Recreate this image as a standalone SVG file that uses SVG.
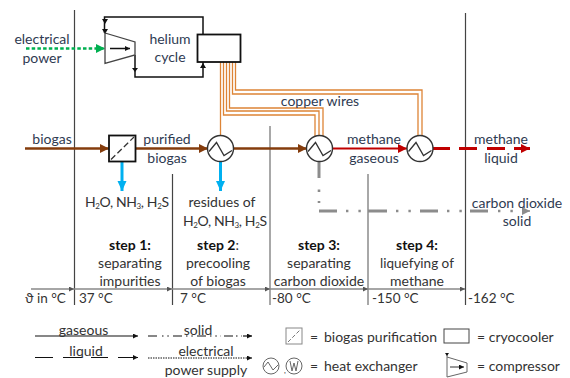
<svg xmlns="http://www.w3.org/2000/svg" width="570" height="378" viewBox="0 0 570 378">
<defs>
<style>
text{font-family:"Lato","Carlito","Open Sans",sans-serif;font-size:14px;fill:#2f3b52}
.m{text-anchor:middle}
.k{fill:#333}
.b{font-weight:700;fill:#111}
.s{font-size:8px}
.t{font-size:13.500px}
.w{fill:none;stroke:#dd8436;stroke-width:1.300}
.v{fill:none;stroke:#444;stroke-width:1.200}
.g{fill:none;stroke:#8c8c8c;stroke-width:1.500}
.hx{fill:#fff;stroke:#333;stroke-width:1.400}
.z{fill:none;stroke:#333;stroke-width:1.300}
.bk{fill:none;stroke:#111;stroke-width:1.500}
.lg{fill:none;stroke:#111;stroke-width:1.200}
</style>
<marker id="ab" markerUnits="userSpaceOnUse" markerWidth="10" markerHeight="10" refX="9" refY="4.500" orient="auto"><path d="M0 0L9 4.500L0 9z" fill="#843c0c"/></marker>
<marker id="ar" markerUnits="userSpaceOnUse" markerWidth="10" markerHeight="10" refX="9" refY="4.500" orient="auto"><path d="M0 0L9 4.500L0 9z" fill="#c00000"/></marker>
<marker id="ag" markerUnits="userSpaceOnUse" markerWidth="10" markerHeight="10" refX="9" refY="4.500" orient="auto"><path d="M0 0L9 4.500L0 9z" fill="#00b050"/></marker>
<marker id="au" markerUnits="userSpaceOnUse" markerWidth="11" markerHeight="11" refX="10" refY="4.500" orient="auto"><path d="M0 0L10 4.500L0 9z" fill="#00b0f0"/></marker>
<marker id="ay" markerUnits="userSpaceOnUse" markerWidth="10" markerHeight="10" refX="8" refY="4" orient="auto"><path d="M0 0L8 4L0 8z" fill="#8c8c8c"/></marker>
<marker id="ak" markerUnits="userSpaceOnUse" markerWidth="8" markerHeight="8" refX="5" refY="2.500" orient="auto"><path d="M0 0L5 2.500L0 5z" fill="#111"/></marker>
<marker id="ax" markerUnits="userSpaceOnUse" markerWidth="8" markerHeight="8" refX="5" refY="2.500" orient="auto"><path d="M0 0L5 2.500L0 5z" fill="#555"/></marker>
<path id="zig" d="M-11.500 3L-4 -6L3.500 7L11.500 2"/>
</defs>
<rect width="570" height="378" fill="#fff"/>

<g id="grid">
<path class="v" d="M74.500 10V305M465.500 13V305"/>
<path class="v" d="M172.500 174V305"/>
<path class="g" d="M270 126V305M368 174V305"/>
<g fill="none" stroke="#888" stroke-width="1.300">
<path d="M31 289H74" marker-end="url(#ax)"/>
<path d="M74 289H172" marker-end="url(#ax)"/>
<path d="M172 289H270" marker-end="url(#ax)"/>
<path d="M270 289H368" marker-end="url(#ax)"/>
<path d="M368 289H465" marker-end="url(#ax)"/>
</g>
</g>

<g id="connectors">
<path class="w" d="M220.500 62V136"/>
<path class="w" d="M223.500 62V115H315V136"/>
<path class="w" d="M226.500 62V111H319V136"/>
<path class="w" d="M229.500 62V108H323V136"/>
<path class="w" d="M232.500 62V94H418V136"/>
<path class="w" d="M235.500 62V90H422V136"/>
<path fill="none" stroke="#00b050" stroke-width="2.400" stroke-dasharray="3.500 2.200" d="M26 48.500H105" marker-end="url(#ag)"/>
<path class="bk" d="M203 35V17H104.500V33"/>
<path class="bk" d="M135 55V77H203V62"/>
<path fill="#111" d="M102 19H108L105 24zM102 29H108L105 34zM132 68H138L135 72zM200 68H206L203 63z"/>
<g fill="none" stroke="#843c0c" stroke-width="2.600">
<path d="M25 148.500H109" marker-end="url(#ab)"/>
<path d="M135 148.500H208" marker-end="url(#ab)"/>
<path d="M233 148.500H307" marker-end="url(#ab)"/>
</g>
<path fill="none" stroke="#c00000" stroke-width="1.800" d="M332 148.500H407" marker-end="url(#ar)"/>
<path fill="none" stroke="#c00000" stroke-width="3" d="M433 148.500H450M459 148.500H477M487 148.500H505M514 148.500H524"/>
<path d="M522 148.500H530" fill="none" stroke="#c00000" stroke-width="3" marker-end="url(#ar)"/>
<g fill="none" stroke="#00b0f0" stroke-width="3">
<path d="M122 161V191" marker-end="url(#au)"/>
<path d="M220.500 161V191" marker-end="url(#au)"/>
</g>
<g fill="none" stroke="#8c8c8c">
<path stroke-width="3" d="M319 161V178"/>
<path stroke-width="2.600" stroke-dasharray="2.400 9" d="M319 189.500V203"/>
<path stroke-width="3" d="M319 211H337M368 211H387M420 211H438M470 211H488"/>
<path stroke-width="2.600" stroke-dasharray="2.400 10" d="M346 211H362"/>
<path stroke-width="2.600" stroke-dasharray="2.400 10" d="M396 211H412"/>
<path stroke-width="2.600" stroke-dasharray="2.400 10" d="M447 211H462"/>
<path stroke-width="2.600" stroke-dasharray="2.400 10" d="M498 211H513"/>
<path stroke-width="1.500" d="M522 211H530" marker-end="url(#ay)"/>
</g>
</g>

<g id="compressor"><path fill="#fff" stroke="#444" stroke-width="1.300" d="M105 33L135 42V55L105 63.500z"/><path class="bk" d="M110 48.500H130" marker-end="url(#ak)"/></g>
<g id="cryocooler"><rect x="197.500" y="34.500" width="43" height="27.500" fill="#fff" stroke="#111" stroke-width="1.800"/></g>
<g id="purifier"><rect x="109" y="135.500" width="26.500" height="26" fill="#fff" stroke="#111" stroke-width="1.800"/><path fill="none" stroke="#333" stroke-width="1.300" stroke-dasharray="6 3" d="M111 159.500L134 137"/></g>
<g id="hx1" transform="translate(220.500 148.500)"><circle class="hx" r="13"/><use href="#zig" class="z"/></g>
<g id="hx2" transform="translate(319.500 148.500)"><circle class="hx" r="13"/><use href="#zig" class="z"/></g>
<g id="hx3" transform="translate(420 148.500)"><circle class="hx" r="13"/><use href="#zig" class="z"/></g>

<g id="labels">
<text class="m" x="42" y="44">electrical</text>
<text class="m" x="42" y="63">power</text>
<text class="m" x="170" y="44">helium</text>
<text class="m" x="170" y="62">cycle</text>
<text class="m" x="52" y="144">biogas</text>
<text class="m" x="167" y="144">purified</text>
<text class="m" x="167" y="163">biogas</text>
<text class="m" x="320" y="106">copper wires</text>
<text class="m" x="374" y="144">methane</text>
<text class="m" x="374" y="163">gaseous</text>
<text class="m" x="501" y="144">methane</text>
<text class="m" x="501" y="163">liquid</text>
<text class="m" x="517" y="208">carbon dioxide</text>
<text class="m" x="517" y="226">solid</text>
<text class="k" x="85" y="207" textLength="84">H<tspan class="s" dy="1.500">2</tspan><tspan dy="-1.500">O, NH</tspan><tspan class="s" dy="1.500">3</tspan><tspan dy="-1.500">, H</tspan><tspan class="s" dy="1.500">2</tspan><tspan dy="-1.500">S</tspan></text>
<text class="m k" x="222" y="207">residues of</text>
<text class="k" x="183" y="226" textLength="84">H<tspan class="s" dy="1.500">2</tspan><tspan dy="-1.500">O, NH</tspan><tspan class="s" dy="1.500">3</tspan><tspan dy="-1.500">, H</tspan><tspan class="s" dy="1.500">2</tspan><tspan dy="-1.500">S</tspan></text>
<text class="m b" x="130" y="250">step 1:</text>
<text class="m k" x="130" y="268">separating</text>
<text class="m k" x="130" y="286">impurities</text>
<text class="m" x="218" y="250"><tspan class="b">step 2</tspan><tspan class="k">:</tspan></text>
<text class="m k" x="218" y="268">precooling</text>
<text class="m k" x="218" y="286">of biogas</text>
<text class="m b" x="319" y="250">step 3:</text>
<text class="m k" x="319" y="268">separating</text>
<text class="m k" x="319" y="286">carbon dioxide</text>
<text class="m b" x="417" y="250">step 4:</text>
<text class="m k t" x="417" y="268">liquefying of</text>
<text class="m k" x="417" y="286">methane</text>
<text class="k t" x="25" y="303">ϑ in °C</text>
<text class="k t" x="79" y="303">37 °C</text>
<text class="k t" x="180" y="303">7 °C</text>
<text class="k t" x="272" y="303">-80 °C</text>
<text class="k t" x="372" y="303">-150 °C</text>
<text class="k t" x="468" y="303">-162 °C</text>
</g>

<g id="legend">
<path class="lg" d="M35 336H138" marker-end="url(#ak)"/>
<path class="lg" d="M148 336H157M173 336H182M197 336H206M224 336H233"/>
<path class="lg" stroke-dasharray="1.500 3.800" d="M162 336H170M186 336H194M210 336H221M236 336H242"/>
<path class="lg" d="M243 336H252" marker-end="url(#ak)"/>
<path class="lg" d="M35 357.500H53M63 357.500H82M91 357.500H108M118 357.500H138" marker-end="url(#ak)"/>
<path class="lg" stroke-dasharray="1.500 1" d="M148 358H252" marker-end="url(#ak)"/>
<text class="m k" x="83.500" y="335">gaseous</text>
<text class="m k" x="198" y="335">solid</text>
<text class="m k" x="86" y="356">liquid</text>
<text class="m k" x="206" y="356">electrical</text>
<text class="m k" x="206" y="375">power supply</text>
<g id="legend-purifier"><rect x="286" y="328" width="16" height="16" fill="none" stroke="#888" stroke-width="1"/><path fill="none" stroke="#777" stroke-width="1" stroke-dasharray="4 2" d="M288 342L300 330"/></g>
<text class="k" x="310" y="342">=</text>
<text class="k" x="324" y="342">biogas purification</text>
<rect id="legend-cryo" x="444" y="329" width="25" height="14" fill="none" stroke="#444" stroke-width="1"/>
<text class="k" x="477" y="342">= cryocooler</text>
<g id="legend-hx" fill="none" stroke="#666" stroke-width="1">
<circle cx="271" cy="366" r="8"/><path d="M264 367L268 362L273 370L278 365"/>
<circle cx="294" cy="366" r="8"/><path d="M290 361L292 371L294 363L296 371L298 361"/>
</g>
<text class="s k" x="284" y="373">,</text>
<text class="k" x="310" y="371">=</text>
<text class="k" x="324" y="371">heat exchanger</text>
<g id="legend-compressor"><path fill="none" stroke="#666" stroke-width="1" d="M447 354V377L467 372V363L447 357"/><path fill="#111" d="M445 353H449L447 356z"/><path fill="none" stroke="#333" stroke-width="1" d="M450 367H464" marker-end="url(#ak)"/></g>
<text class="k" x="477" y="371">= compressor</text>
</g>
</svg>
